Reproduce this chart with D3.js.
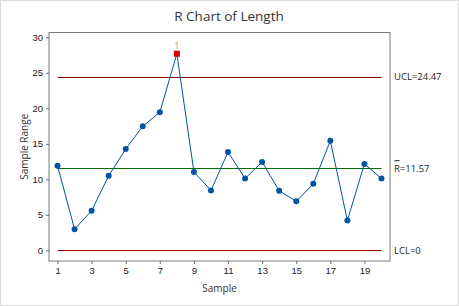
<!DOCTYPE html>
<html>
<head>
<meta charset="utf-8">
<script src="https://cdn.jsdelivr.net/npm/d3@7"></script>
<style>
  body { margin: 0; background: #fff; }
  svg { display: block; font-family: "Open Sans", "Noto Sans", sans-serif; }
  .axis path, .axis line { stroke: #6e6e6e; }
  .axis text { fill: #222; font-size: 9.5px; }
</style>
</head>
<body>
<svg width="459" height="306"></svg>
<script>
"use strict";

var samples = d3.range(1, 21);
var ranges = [11.93, 2.98, 5.59, 10.49, 14.27, 17.48, 19.44, 27.69, 11.05, 8.44,
              13.85, 10.12, 12.45, 8.39, 6.90, 9.37, 15.43, 4.20, 12.17, 10.12];
var limitValues = [24.47, 11.57, 0];
var limitLabels = ["UCL=24.47", "R=11.57", "LCL=0"];
var flagged = [8];
var xTicks = [1, 3, 5, 7, 9, 11, 13, 15, 17, 19];
var yTicks = [0, 5, 10, 15, 20, 25, 30];

var svg = d3.select("svg");
var plotLeft = 49, plotRight = 390, plotTop = 32.5, plotBottom = 261;

var x = d3.scaleLinear().domain([0.5, 20.5]).range([plotLeft, plotRight]);
var y = d3.scaleLinear().domain([-1.5, 30.68]).range([plotBottom, plotTop]);

// outer border
svg.append("rect")
    .attr("x", 0.5).attr("y", 0.5)
    .attr("width", 458).attr("height", 305)
    .attr("fill", "none")
    .attr("stroke", "#dcdcdc");

// title
svg.append("text")
    .attr("x", 229).attr("y", 21)
    .attr("text-anchor", "middle")
    .attr("font-size", "13.5px")
    .attr("fill", "#333")
    .text("R Chart of Length");

// axes
svg.append("g")
    .attr("class", "axis")
    .attr("transform", "translate(0," + plotBottom + ")")
    .call(d3.axisBottom(x).tickValues(xTicks).tickSize(3).tickSizeOuter(0))
    .call(function (g) { g.select(".domain").remove(); });

svg.append("g")
    .attr("class", "axis")
    .attr("transform", "translate(" + plotLeft + ",0)")
    .call(d3.axisLeft(y).tickValues(yTicks).tickSize(3).tickSizeOuter(0))
    .call(function (g) { g.select(".domain").remove(); });

// frame
svg.append("rect")
    .attr("x", plotLeft).attr("y", plotTop)
    .attr("width", plotRight - plotLeft).attr("height", plotBottom - plotTop)
    .attr("fill", "none")
    .attr("stroke", "#7a7a7a");

// axis labels
svg.append("text")
    .attr("x", (plotLeft + plotRight) / 2).attr("y", 292)
    .attr("text-anchor", "middle")
    .attr("font-size", "10px")
    .attr("fill", "#333")
    .text("Sample");

svg.append("text")
    .attr("transform", "translate(28," + ((plotTop + plotBottom) / 2) + ") rotate(-90)")
    .attr("text-anchor", "middle")
    .attr("font-size", "10px")
    .attr("fill", "#333")
    .text("Sample Range");

// control limits
var limitColors = ["#8b0000", "#007000", "#a00000"];
svg.append("g")
    .selectAll("line.limit")
    .data(limitValues)
    .enter()
    .append("line")
    .classed("limit", true)
    .attr("x1", x(1))
    .attr("x2", x(20))
    .attr("y1", function (d) { return Math.round(y(d)) + 0.5; })
    .attr("y2", function (d) { return Math.round(y(d)) + 0.5; })
    .attr("stroke", function (d, i) { return limitColors[i]; })
    .attr("stroke-width", 1);

svg.append("g")
    .selectAll("text")
    .data(limitValues)
    .enter()
    .append("text")
    .attr("x", 394)
    .attr("y", function (d) { return y(d) + 3.5; })
    .attr("font-size", "9.5px")
    .attr("fill", "#222")
    .text(function (d, i) { return limitLabels[i]; });

// bar over R
svg.append("line")
    .attr("x1", 394.5).attr("x2", 399.5)
    .attr("y1", y(limitValues[1]) - 7.5).attr("y2", y(limitValues[1]) - 7.5)
    .attr("stroke", "#222").attr("stroke-width", 1);

// data line
var line = d3.line()
    .x(function (d, i) { return x(samples[i]); })
    .y(function (d) { return y(d); });

svg.append("path")
    .datum(ranges)
    .attr("d", line)
    .attr("fill", "none")
    .attr("stroke", "#0054a6")
    .attr("stroke-width", 1);

var pts = samples.map(function (s, i) { return { s: s, v: ranges[i] }; });

svg.append("g")
    .selectAll("circle")
    .data(pts.filter(function (d) { return flagged.indexOf(d.s) < 0; }))
    .enter()
    .append("circle")
    .attr("cx", function (d) { return x(d.s); })
    .attr("cy", function (d) { return y(d.v); })
    .attr("r", 3)
    .attr("fill", "#0054a6");

var bad = svg.append("g")
    .selectAll("g")
    .data(pts.filter(function (d) { return flagged.indexOf(d.s) >= 0; }))
    .enter()
    .append("g");

bad.append("rect")
    .attr("x", function (d) { return x(d.s) - 3; })
    .attr("y", function (d) { return y(d.v) - 3; })
    .attr("width", 6).attr("height", 6)
    .attr("fill", "#d40000");

bad.append("text")
    .attr("x", function (d) { return x(d.s); })
    .attr("y", function (d) { return y(d.v) - 5; })
    .attr("text-anchor", "middle")
    .attr("font-size", "9px")
    .attr("fill", "#999")
    .text("1");
</script>
</body>
</html>
